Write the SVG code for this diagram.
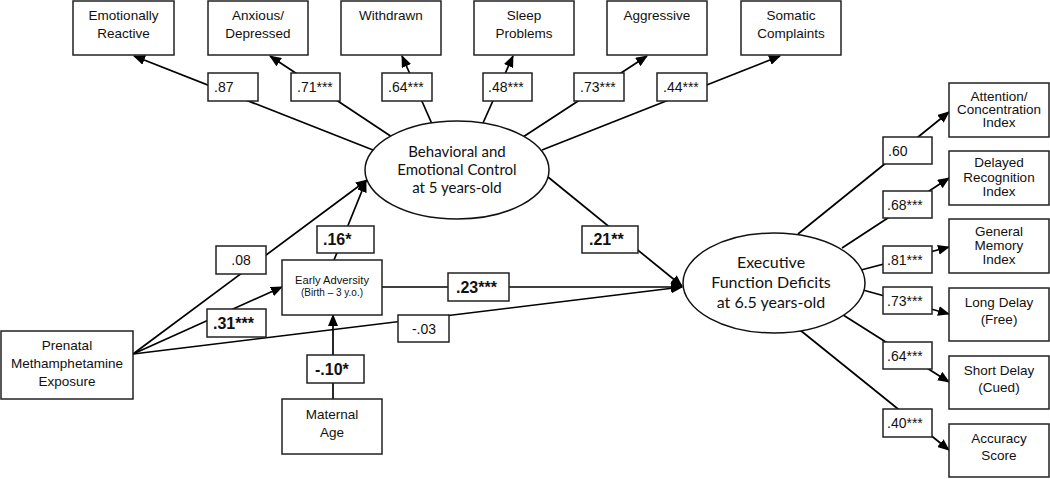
<svg xmlns="http://www.w3.org/2000/svg" width="1050" height="479" viewBox="0 0 1050 479">
<defs>
<marker id="ah" markerUnits="userSpaceOnUse" markerWidth="12" markerHeight="10" refX="11" refY="5" orient="auto">
<path d="M0,0 L12,5 L0,10 z" fill="#000"/>
</marker>
<style>
.box{fill:#fff;stroke:#222;stroke-width:1.5}
.lbl{fill:#fff;stroke:#222;stroke-width:1.5}
.ell{fill:#fff;stroke:#111;stroke-width:1.5}
.c{fill:none;stroke:#000;stroke-width:1.7}
.a{marker-end:url(#ah)}
text{font-family:"Liberation Sans",Arial,sans-serif;fill:#111}
.t{font-size:13.5px;text-anchor:middle}
.n{font-size:14px}
.b{font-size:16px;font-weight:bold}
.e{font-family:Lato,"Open Sans",sans-serif;text-anchor:middle}
</style>
</defs>
<rect width="1050" height="479" fill="#fff"/>

<g id="connectors">
<line class="c a" x1="373" y1="150" x2="134" y2="56"/>
<line class="c a" x1="392" y1="137" x2="270" y2="56"/>
<line class="c a" x1="432" y1="124" x2="402" y2="56"/>
<line class="c a" x1="483" y1="123" x2="513" y2="56"/>
<line class="c a" x1="523" y1="137" x2="647" y2="56"/>
<line class="c a" x1="542" y1="150" x2="780" y2="56"/>
<line class="c a" x1="798" y1="234" x2="949" y2="112"/>
<line class="c a" x1="842" y1="248" x2="949" y2="178"/>
<line class="c a" x1="861" y1="270" x2="949" y2="247"/>
<line class="c a" x1="863" y1="290" x2="949" y2="314"/>
<line class="c a" x1="840" y1="313" x2="949" y2="382"/>
<line class="c a" x1="800" y1="330" x2="949" y2="450"/>
<line class="c a" x1="133" y1="354" x2="367" y2="180"/>
<line class="c a" x1="133" y1="354" x2="282" y2="287"/>
<line class="c a" x1="133" y1="354" x2="682" y2="287"/>
<line class="c a" x1="334" y1="260" x2="366" y2="181"/>
<line class="c a" x1="333" y1="399" x2="333" y2="315"/>
<line class="c a" x1="382" y1="287" x2="682" y2="287"/>
<line class="c a" x1="548" y1="177" x2="682" y2="286"/>
</g>

<g id="bec">
<ellipse class="ell" cx="457" cy="170" rx="92" ry="49"/>
<text class="e" x="457" y="157" font-size="15">Behavioral and</text>
<text class="e" x="457" y="175" font-size="15">Emotional Control</text>
<text class="e" x="457" y="193" font-size="15">at 5 years-old</text>
</g>
<g id="efd">
<ellipse class="ell" cx="774" cy="283" rx="91" ry="50"/>
<text class="e" x="771" y="268" font-size="16">Executive</text>
<text class="e" x="771" y="288" font-size="16">Function Deficits</text>
<text class="e" x="771" y="308" font-size="16">at 6.5 years-old</text>
</g>

<g id="top-indicators">
<g id="emotionally-reactive"><rect class="box" x="73" y="1" width="101" height="54"/><text class="t" x="123.5" y="20">Emotionally</text><text class="t" x="123.5" y="38">Reactive</text></g>
<g id="anxious-depressed"><rect class="box" x="208" y="1" width="100" height="54"/><text class="t" x="258" y="20">Anxious/</text><text class="t" x="258" y="38">Depressed</text></g>
<g id="withdrawn"><rect class="box" x="341" y="1" width="100" height="54"/><text class="t" x="391" y="20">Withdrawn</text></g>
<g id="sleep-problems"><rect class="box" x="474" y="1" width="100" height="54"/><text class="t" x="524" y="20">Sleep</text><text class="t" x="524" y="38">Problems</text></g>
<g id="aggressive"><rect class="box" x="607" y="1" width="100" height="54"/><text class="t" x="657" y="20">Aggressive</text></g>
<g id="somatic-complaints"><rect class="box" x="741" y="1" width="100" height="54"/><text class="t" x="791" y="20">Somatic</text><text class="t" x="791" y="38">Complaints</text></g>
</g>

<g id="top-loadings">
<g><rect class="lbl" x="208" y="73" width="50" height="28"/><text class="n" x="214" y="92">.87</text></g>
<g><rect class="lbl" x="291" y="73" width="49" height="28"/><text class="n" x="297" y="92">.71***</text></g>
<g><rect class="lbl" x="382" y="73" width="50" height="28"/><text class="n" x="388" y="92">.64***</text></g>
<g><rect class="lbl" x="483" y="73" width="49" height="28"/><text class="n" x="488" y="92">.48***</text></g>
<g><rect class="lbl" x="574" y="73" width="50" height="28"/><text class="n" x="580" y="92">.73***</text></g>
<g><rect class="lbl" x="657" y="73" width="50" height="28"/><text class="n" x="663" y="92">.44***</text></g>
</g>

<g id="right-indicators">
<g id="attention"><rect class="box" x="949" y="83" width="100" height="54"/><text class="t" x="999" y="101" font-size="11.5">Attention/</text><text class="t" x="999" y="114" font-size="11.5">Concentration</text><text class="t" x="999" y="127" font-size="11.5">Index</text></g>
<g id="delayed-recognition"><rect class="box" x="949" y="151" width="100" height="54"/><text class="t" x="999" y="167" font-size="13">Delayed</text><text class="t" x="999" y="182" font-size="13">Recognition</text><text class="t" x="999" y="196" font-size="13">Index</text></g>
<g id="general-memory"><rect class="box" x="949" y="219" width="100" height="54"/><text class="t" x="999" y="236" font-size="12">General</text><text class="t" x="999" y="250" font-size="12">Memory</text><text class="t" x="999" y="264" font-size="12">Index</text></g>
<g id="long-delay"><rect class="box" x="949" y="288" width="100" height="53"/><text class="t" x="999" y="307">Long Delay</text><text class="t" x="999" y="324">(Free)</text></g>
<g id="short-delay"><rect class="box" x="949" y="356" width="100" height="53"/><text class="t" x="999" y="375">Short Delay</text><text class="t" x="999" y="392">(Cued)</text></g>
<g id="accuracy"><rect class="box" x="949" y="424" width="100" height="53"/><text class="t" x="999" y="443">Accuracy</text><text class="t" x="999" y="460">Score</text></g>
</g>

<g id="right-loadings">
<g><rect class="lbl" x="883" y="137" width="49" height="27"/><text class="n" x="888" y="155.5">.60</text></g>
<g><rect class="lbl" x="883" y="191" width="49" height="27"/><text class="n" x="887" y="209.5">.68***</text></g>
<g><rect class="lbl" x="883" y="246" width="49" height="27"/><text class="n" x="887" y="264.5">.81***</text></g>
<g><rect class="lbl" x="883" y="287" width="49" height="27"/><text class="n" x="887" y="305.5">.73***</text></g>
<g><rect class="lbl" x="883" y="342" width="49" height="27"/><text class="n" x="887" y="360.5">.64***</text></g>
<g><rect class="lbl" x="883" y="409" width="49" height="28"/><text class="n" x="887" y="428">.40***</text></g>
</g>

<g id="prenatal-meth">
<rect class="box" x="1" y="331" width="132" height="68"/>
<text class="t" x="67" y="350">Prenatal</text>
<text class="t" x="67" y="368">Methamphetamine</text>
<text class="t" x="67" y="386">Exposure</text>
</g>
<g id="early-adversity">
<rect class="box" x="282" y="260" width="100" height="55"/>
<text x="332" y="284" font-size="11.2" text-anchor="middle">Early Adversity</text>
<text x="332" y="296" font-size="10" text-anchor="middle">(Birth – 3 y.o.)</text>
</g>
<g id="maternal-age">
<rect class="box" x="282" y="399" width="100" height="55"/>
<text class="t" x="332" y="419">Maternal</text>
<text class="t" x="332" y="437">Age</text>
</g>

<g id="path-coefficients">
<g><rect class="lbl" x="216" y="246" width="50" height="28"/><text class="n" x="241" y="265" text-anchor="middle">.08</text></g>
<g><rect class="lbl" x="207" y="309" width="59" height="28"/><text class="b" x="213" y="329">.31***</text></g>
<g><rect class="lbl" x="317" y="226" width="57" height="27"/><text class="b" x="323" y="245">.16*</text></g>
<g><rect class="lbl" x="307" y="355" width="57" height="28"/><text class="b" x="315" y="375">-.10*</text></g>
<g><rect class="lbl" x="398" y="315" width="51" height="27"/><text class="n" x="424" y="333.5" text-anchor="middle">-.03</text></g>
<g><rect class="lbl" x="448" y="273" width="61" height="28"/><text class="b" x="456" y="292.5">.23***</text></g>
<g><rect class="lbl" x="582" y="226" width="56" height="27"/><text class="b" x="589" y="245">.21**</text></g>
</g>
</svg>
